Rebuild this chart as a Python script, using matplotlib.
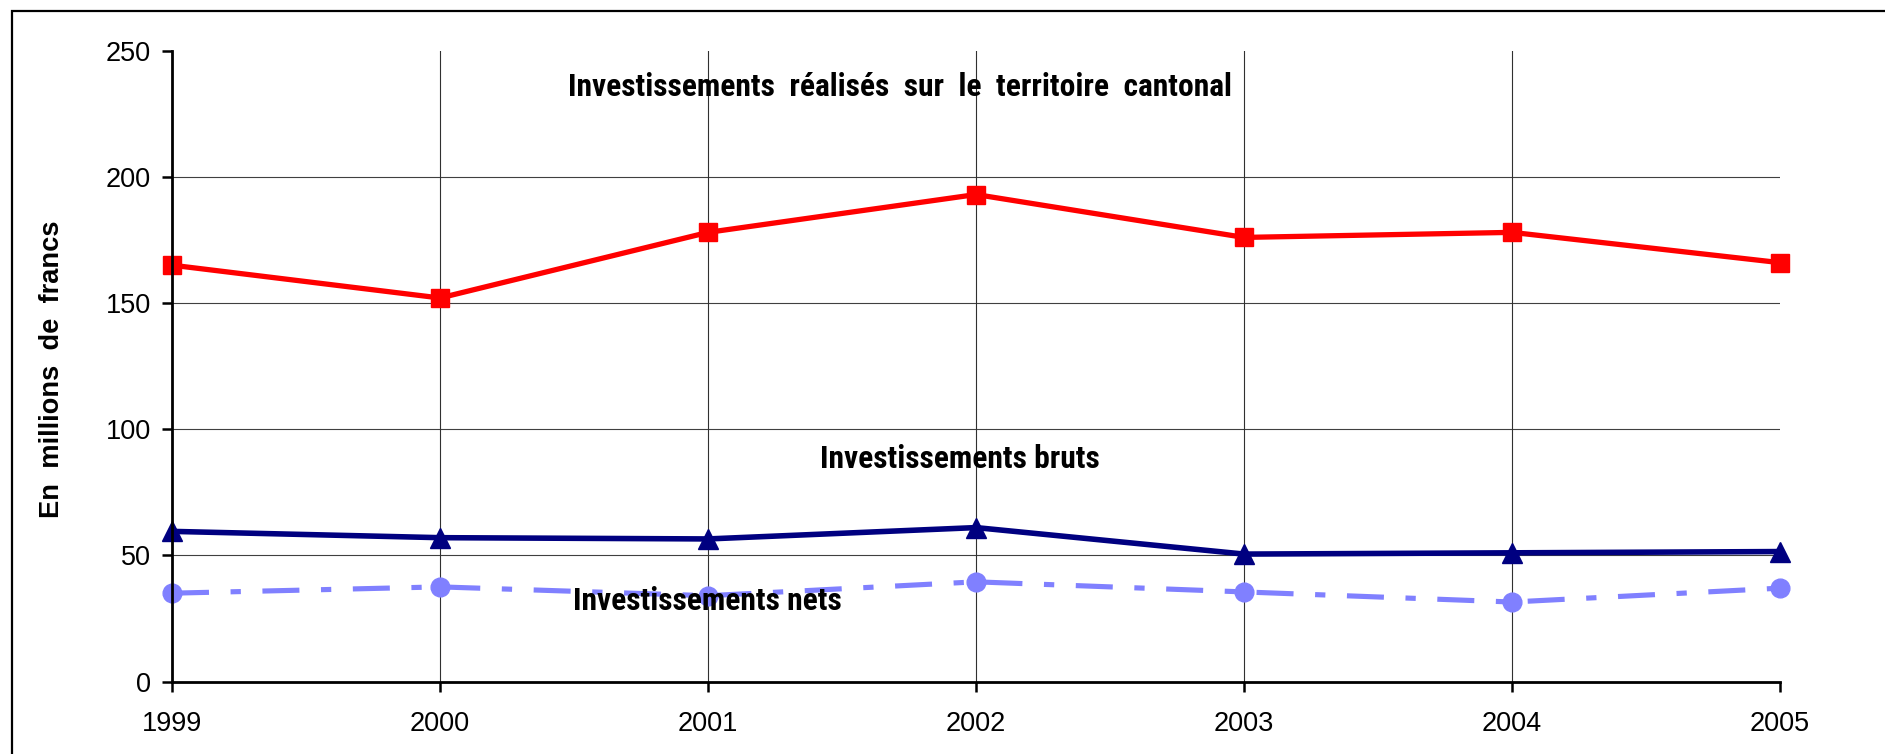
import matplotlib
matplotlib.use("Agg")
import matplotlib.pyplot as plt
from matplotlib import font_manager
from matplotlib.font_manager import FontProperties
from matplotlib.patches import Rectangle

years = [1999, 2000, 2001, 2002, 2003, 2004, 2005]
territoire = [165, 152, 178, 193, 176, 178, 166]
bruts = [59.5, 57, 56.5, 61, 50.5, 51, 51.5]
nets = [35, 37.5, 34, 39.5, 35.5, 31.5, 37]
yticks = [0, 50, 100, 150, 200, 250]

names = {f.name for f in font_manager.fontManager.ttflist}
regular = "Liberation Sans" if "Liberation Sans" in names else "DejaVu Sans"


def find_narrow_bold():
    fl = font_manager.fontManager.ttflist
    def is_bold(f):
        w = f.weight
        if isinstance(w, str):
            return w in ("bold", "heavy", "black", "semibold", "demibold")
        return w >= 600
    def is_narrow(f):
        fn = f.fname.lower()
        return ("narrow" in fn or "condensed" in fn or "cond" in fn or
                f.stretch in ("condensed", "semi-condensed", "extra-condensed",
                              "ultra-condensed") or
                (isinstance(f.stretch, int) and f.stretch < 500))
    prefs = ["liberation", "arimo", "roboto", "open", "noto", "dejavu", ""]
    cands = [f for f in fl if is_bold(f) and is_narrow(f)
             and "italic" not in f.fname.lower() and f.style == "normal"]
    for p in prefs:
        for f in cands:
            if p in f.fname.lower():
                return FontProperties(fname=f.fname)
    return FontProperties(family=regular, weight="bold")


narrow_fp = find_narrow_bold()
regular_bold_fp = FontProperties(family=regular, weight="bold")

W, H = 1885, 754
fig = plt.figure(figsize=(W / 100, H / 100), dpi=100)
fig.patch.set_facecolor("white")

# outer frame (cut at right/bottom)
fig.add_artist(Rectangle((12 / W, -0.1), 1.2, 1 - 11 / H + 0.1,
                         transform=fig.transFigure, fill=False,
                         edgecolor="black", linewidth=1.6))

ax = fig.add_axes([172 / W, 1 - 681.5 / H, (1780 - 172) / W, (681.5 - 50.7) / H])
ax.set_xlim(1999, 2005)
ax.set_ylim(0, 250)

for v in yticks[1:-1]:
    ax.axhline(v, color="#404040", linewidth=0.8, zorder=1)
for yr in years[1:-1]:
    ax.axvline(yr, color="#303030", linewidth=0.8, zorder=1)

ax.plot(years, territoire, color="#FF0000", linewidth=3.8, marker="s",
        markersize=13, clip_on=False, zorder=4)
ax.plot(years, bruts, color="#000080", linewidth=4.0, marker="^",
        markersize=15, clip_on=False, zorder=4)
ax.plot(years, nets, color="#8080FF", linewidth=3.7, marker="o",
        markersize=13.5, dashes=(7.2, 4.2, 2, 4.2), clip_on=False, zorder=3)

for s in ["top", "right"]:
    ax.spines[s].set_visible(False)
for s in ["left", "bottom"]:
    ax.spines[s].set_linewidth(2)
    ax.spines[s].set_zorder(5)

ax.set_xticks(years)
ax.set_xticklabels([str(y) for y in years])
ax.set_yticks(yticks)
ax.tick_params(axis="both", direction="out", length=7, width=1.8,
               labelsize=19.5)
ax.tick_params(axis="y", pad=8)
ax.tick_params(axis="x", pad=14)
for lab in ax.get_xticklabels() + ax.get_yticklabels():
    lab.set_fontfamily(regular)


def px(x, y):
    return x / W, 1 - y / H


renderer = fig.canvas.get_renderer()


def fitted_text(cx, cy, s, target, fp, rotation=0, base=19, zorder=10):
    fp = fp.copy()
    fp.set_size(base)
    t = fig.text(*px(cx, cy), s, ha="center", va="center",
                 fontproperties=fp, rotation=rotation, zorder=zorder)
    bb = t.get_window_extent(renderer)
    size = bb.height if rotation == 90 else bb.width
    t.set_fontsize(base * target / size)
    return t


fitted_text(52, 369, "En  millions  de  francs", 298, regular_bold_fp, rotation=90)
fitted_text(900, 87, "Investissements  réalisés  sur  le  territoire  cantonal",
            663, narrow_fp)
fitted_text(960, 459, "Investissements bruts", 280, narrow_fp)
fitted_text(707, 601, "Investissements nets", 269, narrow_fp)

fig.savefig("out.png", dpi=100, facecolor="white")
